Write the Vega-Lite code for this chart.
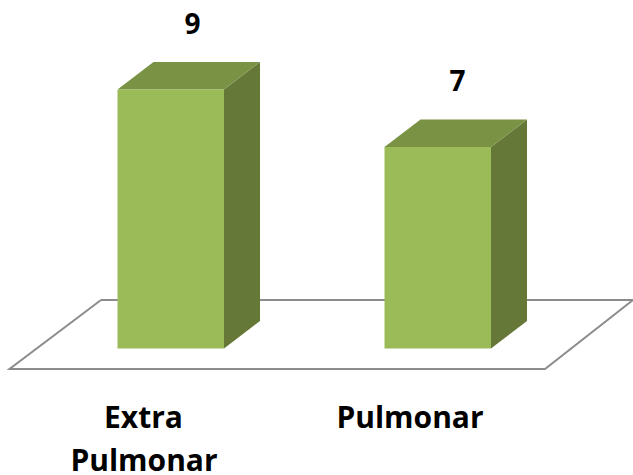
{
  "$schema": "https://vega.github.io/schema/vega-lite/v6.json",
  "width": 633, "height": 475, "padding": 0, "autosize": {"type": "none"},
  "background": "white",
  "view": {"stroke": null},
  "config": {"axis": {"disable": true}},
  "datasets": {
    "floor": [
      {"i": 0, "x": 101, "y": 1.685},
      {"i": 1, "x": 9.5, "y": -0.712},
      {"i": 2, "x": 545, "y": -0.712},
      {"i": 3, "x": 633, "y": 1.685},
      {"i": 4, "x": 101, "y": 1.685}
    ],
    "faces": [
      {"part": "side A", "x": 224, "y": 9, "y2": 0},
      {"part": "side A", "x": 260, "y": 9.955, "y2": 0.955},
      {"part": "top A", "x": 117.5, "y": 9, "y2": 9},
      {"part": "top A", "x": 153.5, "y": 9.955, "y2": 9},
      {"part": "top A", "x": 224, "y": 9.955, "y2": 9},
      {"part": "top A", "x": 260, "y": 9.955, "y2": 9.955},
      {"part": "side B", "x": 491, "y": 7, "y2": 0},
      {"part": "side B", "x": 527, "y": 7.955, "y2": 0.955},
      {"part": "top B", "x": 384.5, "y": 7, "y2": 7},
      {"part": "top B", "x": 420.5, "y": 7.955, "y2": 7},
      {"part": "top B", "x": 491, "y": 7.955, "y2": 7},
      {"part": "top B", "x": 527, "y": 7.955, "y2": 7.955}
    ],
    "bars": [
      {"category": "Extra Pulmonar", "x": 117.5, "x2": 224, "value": 9, "labelX": 192.5, "labelY": 11.2},
      {"category": "Pulmonar", "x": 384.5, "x2": 491, "value": 7, "labelX": 457.5, "labelY": 9.22}
    ],
    "labels": [
      {"text": "Extra", "x": 143.5, "y": -2.44},
      {"text": "Pulmonar", "x": 144, "y": -3.93},
      {"text": "Pulmonar", "x": 410, "y": -2.44}
    ]
  },
  "layer": [
    {
      "data": {"name": "floor"},
      "mark": {"type": "line", "stroke": "#8c8c8c", "strokeWidth": 2, "clip": true},
      "encoding": {
        "x": {"field": "x", "type": "quantitative", "scale": {"domain": [0, 633], "nice": false, "zero": false}, "axis": null},
        "y": {"field": "y", "type": "quantitative", "scale": {"domain": [-4.395, 12.11], "nice": false, "zero": false}, "axis": null},
        "order": {"field": "i"}
      }
    },
    {
      "data": {"name": "faces"},
      "mark": {"type": "area", "interpolate": "linear"},
      "encoding": {
        "x": {"field": "x", "type": "quantitative", "sort": null, "axis": null},
        "y": {"field": "y", "type": "quantitative", "stack": null, "axis": null},
        "y2": {"field": "y2"},
        "color": {"field": "part", "type": "nominal", "legend": null,
          "scale": {"domain": ["side A", "top A", "side B", "top B"], "range": ["#657837", "#799243", "#657837", "#799243"]}}
      }
    },
    {
      "data": {"name": "bars"},
      "mark": {"type": "rect", "color": "#9BBB59"},
      "encoding": {
        "x": {"field": "x", "type": "quantitative", "axis": null},
        "x2": {"field": "x2"},
        "y": {"field": "value", "type": "quantitative", "axis": null},
        "y2": {"datum": 0}
      }
    },
    {
      "data": {"name": "bars"},
      "mark": {"type": "text", "font": "Open Sans", "fontWeight": "bold", "fontSize": 28, "color": "#000000", "align": "center", "baseline": "middle"},
      "encoding": {
        "x": {"field": "labelX", "type": "quantitative", "axis": null},
        "y": {"field": "labelY", "type": "quantitative", "axis": null},
        "text": {"field": "value", "type": "quantitative"}
      }
    },
    {
      "data": {"name": "labels"},
      "mark": {"type": "text", "font": "Open Sans", "fontWeight": "bold", "fontSize": 30, "color": "#000000", "align": "center", "baseline": "middle"},
      "encoding": {
        "x": {"field": "x", "type": "quantitative", "axis": null},
        "y": {"field": "y", "type": "quantitative", "axis": null},
        "text": {"field": "text", "type": "nominal"}
      }
    }
  ]
}
